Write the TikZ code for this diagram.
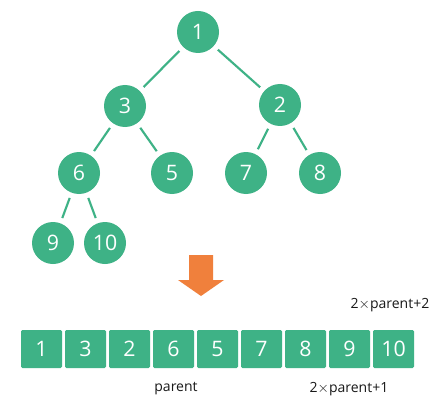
\documentclass[tikz,border=0pt]{standalone}
\usepackage{fontspec}
\setmainfont{Open Sans}
\definecolor{heapgreen}{RGB}{62,178,134}
\definecolor{heaporange}{RGB}{240,128,60}
\tikzset{
	treenode/.style={circle,fill=heapgreen,minimum size=31.5pt,inner sep=0pt,
		text=white,font=\fontsize{16}{16}\selectfont},
	treeedge/.style={draw=heapgreen,line width=1.6pt,shorten <=4pt,shorten >=4pt},
	cell/.style={fill=heapgreen,rounded corners=1pt,minimum width=30.75pt,
		minimum height=28.5pt,inner sep=0pt,text=white,font=\fontsize{16}{16}\selectfont},
	tag/.style={text=black!90,font=\fontsize{10.5}{10.5}\selectfont}
}
\begin{document}
\begin{tikzpicture}[x=0.75pt,y=-0.75pt]
	\useasboundingbox[fill=white] (0,0) rectangle (438,406);
	% tree
	\node[treenode] (n1) at (198,32) {1};
	\node[treenode] (n3) at (125,106) {3};
	\node[treenode] (n2) at (280,105) {2};
	\node[treenode] (n6) at (79,173) {6};
	\node[treenode] (n5) at (172,173) {5};
	\node[treenode] (n7) at (246,173) {7};
	\node[treenode] (n8) at (320,173) {8};
	\node[treenode] (n9) at (53,243) {9};
	\node[treenode] (n10) at (105,243) {10};
	\foreach \a/\b in {n1/n3,n1/n2,n3/n6,n3/n5,n2/n7,n2/n8,n6/n9,n6/n10}
	\draw[treeedge] (\a) -- (\b);
	% arrow
	\fill[heaporange] (189,255) -- (213,255) -- (213,280) -- (224,280) -- (201,296)
		-- (178,280) -- (189,280) -- cycle;
	% array
	\foreach \v [count=\i] in {1,3,2,6,5,7,8,9,10}
	\node[cell] (c\i) at ({41.5+44*(\i-1)},349) {\v};
	\node[tag] (t2) at (390,305) {2$\times$parent+2};
	\node[tag] (tp) at (176,389) {parent};
	\node[tag] (t1) at (349,389) {2$\times$parent+1};
\end{tikzpicture}
\end{document}
